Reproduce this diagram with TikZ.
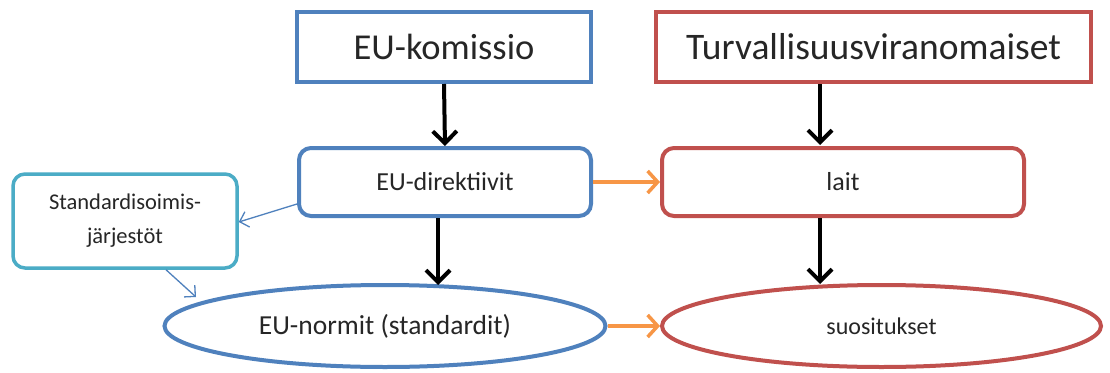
\documentclass[tikz,border=0pt]{standalone}
\usepackage{fontspec}
\setmainfont{Carlito}
\usetikzlibrary{arrows.meta,shapes.geometric}
\definecolor{eublue}{HTML}{4F81BD}
\definecolor{eured}{HTML}{C0504D}
\definecolor{euteal}{HTML}{4BACC6}
\definecolor{euorange}{HTML}{F79646}
\begin{document}
\begin{tikzpicture}[x=1pt,y=-1pt,
  topbox/.style={draw, line width=4pt, minimum height=70pt, inner sep=0pt, text=black!85},
  midbox/.style={draw, line width=4pt, rounded corners=12pt, minimum height=68pt, inner sep=0pt, font=\fontsize{26}{30}\selectfont, text=black!85},
  ovalnode/.style={draw, ellipse, line width=4pt, inner sep=0pt, text=black!85},
  blackarrow/.style={line width=4pt, -{Straight Barb[length=12pt,width=24pt,line width=4pt]}},
  orangearrow/.style={draw=euorange, line width=3.5pt, -{Straight Barb[length=10pt,width=22pt,line width=3.5pt]}},
  bluearrow/.style={draw=eublue, line width=1.3pt, -{Straight Barb[length=8pt,width=16pt,line width=1.3pt]}}
]
\useasboundingbox (0,0) rectangle (1110,372);
\fill[white] (0,0) rectangle (1110,372);
\node[topbox, draw=eublue, minimum width=294pt, font=\fontsize{36.5}{40}\selectfont] (kom) at (444,47) {EU-komissio};
\node[topbox, draw=eured, minimum width=435pt, font=\fontsize{37.5}{40}\selectfont] (tur) at (873.5,47) {Turvallisuusviranomaiset};
\node[midbox, draw=eublue, minimum width=292pt] (dir) at (445,182) {EU-direktiivit};
\node[midbox, draw=eured, minimum width=362pt] (lait) at (843,182) {lait};
\node[midbox, draw=euteal, line width=3.5pt, minimum width=224pt, minimum height=94pt, font=\fontsize{22.5}{34}\selectfont, align=center] (std) at (125,221) {Standardisoimis-\\järjestöt};
\node[ovalnode, draw=eublue, minimum width=441pt, minimum height=82pt, font=\fontsize{27.5}{30}\selectfont] (norm) at (385,326) {EU-normit (standardit)};
\node[ovalnode, draw=eured, minimum width=439pt, minimum height=82pt, font=\fontsize{24}{28}\selectfont] (suo) at (881.5,326) {suositukset};
\draw[blackarrow] (kom.south) -- (dir.north);
\draw[blackarrow] (tur.south -| 820,0) -- (820,145);
\draw[blackarrow] (dir.south -| 438,0) -- (438,285);
\draw[blackarrow] (lait.south -| 820,0) -- (820,284);
\draw[orangearrow] (dir.east) -- (lait.west);
\draw[orangearrow] (norm.east) -- (suo.west);
\coordinate (d1) at (297,204);
\coordinate (n1) at (196,297);
\draw[bluearrow] (d1) -- (std.east |- 0,222);
\draw[bluearrow] (std.south -| 166,0) -- (n1);
\end{tikzpicture}
\end{document}
